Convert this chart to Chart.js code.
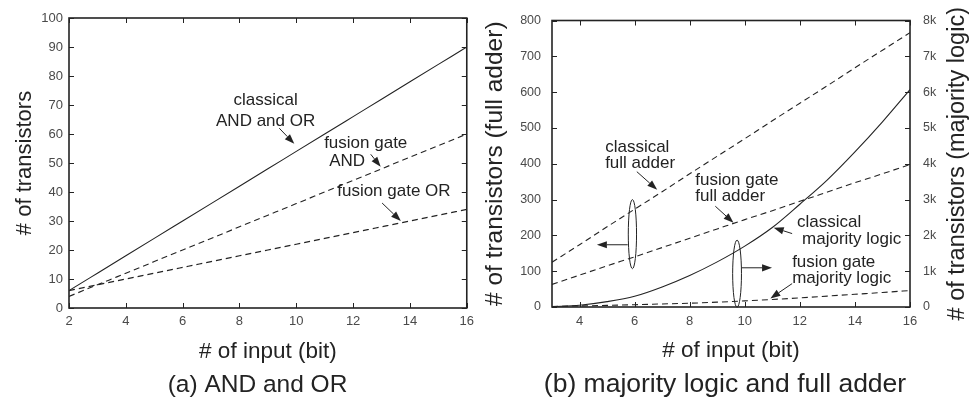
<!DOCTYPE html>
<html><head><meta charset="utf-8">
<script src="https://cdn.jsdelivr.net/npm/chart.js@4.4.1/dist/chart.umd.min.js"></script>
<style>
html,body{margin:0;padding:0;background:#fff;}
#wrap{position:relative;width:974px;height:401px;overflow:hidden;}
#a{position:absolute;left:0;top:0;width:480px;height:401px;}
#b{position:absolute;left:480px;top:0;width:494px;height:401px;}
</style></head><body>
<div id="wrap"><div id="a"><canvas id="ca"></canvas></div><div id="b"><canvas id="cb"></canvas></div></div>
<script>
// ---------- data (a) ----------
const inputsA = [2,3,4,5,6,7,8,9,10,11,12,13,14,15,16];
const classicalAndOr = [6,12,18,24,30,36,42,48,54,60,66,72,78,84,90];
const fusionAnd = [4,8,12,16,20,24,28,32,36,40,44,48,52,56,60];
const fusionOr = [6,8,10,12,14,16,18,20,22,24,26,28,30,32,34];
const xTicksA = [2,4,6,8,10,12,14,16];
const yTicksA = [0,10,20,30,40,50,60,70,80,90,100];

// ---------- data (b) ----------
const inputsB = [3,4,5,6,7,8,9,10,11,12,13,14,15,16];
const classicalFullAdder = [125,174,224,273,322,372,421,470,520,569,618,668,717,766];
const fusionFullAdder = [63,89,115,140,166,192,218,244,269,295,321,347,372,398];
const classicalMajority = [12,50,150,300,560,880,1260,1700,2220,2870,3550,4330,5170,6070];
const fusionMajority = [15,30,45,63,85,105,135,170,210,255,305,355,405,460];
const xTicksB = [4,6,8,10,12,14,16];
const yTicksBLeft = [0,100,200,300,400,500,600,700,800];
const yTicksBRight = [0,1000,2000,3000,4000,5000,6000,7000,8000];
const yTickLabelsBRight = ['0','1k','2k','3k','4k','5k','6k','7k','8k'];

// ---------- annotations (data coordinates) ----------
const notesA = [
  {text:'classical', x:8.92, y:71.7, align:'center'},
  {text:'AND and OR', x:8.92, y:64.5, align:'center'},
  {text:'fusion gate', x:10.98, y:56.8, align:'left'},
  {text:'AND', x:11.16, y:50.7, align:'left'},
  {text:'fusion gate OR', x:11.44, y:40.1, align:'left'}
];
const arrowsA = [
  {from:[9.40,62.0], to:[9.93,56.6]},
  {from:[12.62,53.0], to:[12.97,48.7]},
  {from:[13.02,36.2], to:[13.68,30.0]}
];
const notesB = [
  {text:'classical', x:4.93, y:446.9, align:'left'},
  {text:'full adder', x:4.93, y:400.8, align:'left'},
  {text:'fusion gate', x:8.2, y:355, align:'left'},
  {text:'full adder', x:8.2, y:309, align:'left'},
  {text:'classical', x:11.9, y:235.3, align:'left'},
  {text:'majority logic', x:12.08, y:189.5, align:'left'},
  {text:'fusion gate', x:11.72, y:125, align:'left'},
  {text:'majority logic', x:11.72, y:79.2, align:'left'}
];
const arrowsB = [
  {from:[6.08,377.9], to:[6.82,327.4]},
  {from:[8.93,281.4], to:[9.59,235.3]},
  {from:[11.72,205], to:[11.05,221.5]},
  {from:[11.72,65.4], to:[10.93,24]},
  {from:[5.75,173.8], to:[4.63,173.8]},
  {from:[9.87,109.5], to:[10.99,109.5]}
];
const ellipsesB = [
  {x:5.92, yTop:300, yBottom:107, rx:0.15},
  {x:9.72, yTop:186.8, yBottom:-0.8, rx:0.16}
];

const FONT = "'Liberation Sans', Arial, Helvetica, sans-serif";
Chart.defaults.font.family = FONT;
const INK = '#232323';
const TICKC = '#4a4a4a';

function pts(xs, ys){ return xs.map((x,i)=>({x:x, y:ys[i]})); }

function drawArrow(ctx, x1, y1, x2, y2){
  const ang = Math.atan2(y2-y1, x2-x1), hl = 10, hw = 3.6;
  const bx = x2 - hl*Math.cos(ang), by = y2 - hl*Math.sin(ang);
  ctx.beginPath(); ctx.moveTo(x1,y1); ctx.lineTo(bx,by); ctx.stroke();
  ctx.beginPath();
  ctx.moveTo(x2,y2);
  ctx.lineTo(bx + hw*Math.sin(ang), by - hw*Math.cos(ang));
  ctx.lineTo(bx - hw*Math.sin(ang), by + hw*Math.cos(ang));
  ctx.closePath(); ctx.fill();
}

const frameTicks = {
  id:'frameTicks',
  afterDatasetsDraw(chart){
    const ctx = chart.ctx, ca = chart.chartArea, L = 5;
    ctx.save();
    ctx.strokeStyle = INK; ctx.lineWidth = 1;
    ctx.beginPath();
    const xs = chart.scales.x;
    xs.ticks.forEach(t=>{
      const p = Math.round(xs.getPixelForValue(t.value))+0.5;
      ctx.moveTo(p, ca.bottom); ctx.lineTo(p, ca.bottom-L);
      ctx.moveTo(p, ca.top); ctx.lineTo(p, ca.top+L);
    });
    const ys = chart.scales.y;
    ys.ticks.forEach(t=>{
      const p = Math.round(ys.getPixelForValue(t.value))+0.5;
      ctx.moveTo(ca.left, p); ctx.lineTo(ca.left+L, p);
      ctx.moveTo(ca.right, p); ctx.lineTo(ca.right-L, p);
    });
    ctx.stroke();
    ctx.lineWidth = 1.6;
    ctx.strokeRect(ca.left, ca.top, ca.right-ca.left, ca.bottom-ca.top);
    ctx.restore();
  }
};

function notesPlugin(notes, arrows, ellipses, caption, rightTitle){
  return {
    id:'notes',
    afterDraw(chart){
      const ctx = chart.ctx, xs = chart.scales.x, ys = chart.scales.y, ca = chart.chartArea;
      ctx.save();
      ctx.fillStyle = INK; ctx.strokeStyle = INK; ctx.lineWidth = 1;
      ctx.font = '17px ' + FONT; ctx.textBaseline = 'middle';
      notes.forEach(n=>{
        ctx.textAlign = n.align;
        ctx.fillText(n.text, xs.getPixelForValue(n.x), ys.getPixelForValue(n.y));
      });
      arrows.forEach(a=>{
        drawArrow(ctx, xs.getPixelForValue(a.from[0]), ys.getPixelForValue(a.from[1]),
                       xs.getPixelForValue(a.to[0]), ys.getPixelForValue(a.to[1]));
      });
      ellipses.forEach(e=>{
        const cx = xs.getPixelForValue(e.x);
        const t = ys.getPixelForValue(e.yTop), b = ys.getPixelForValue(e.yBottom);
        const rx = Math.abs(xs.getPixelForValue(e.x+e.rx) - cx);
        ctx.beginPath(); ctx.ellipse(cx, (t+b)/2, rx, Math.abs(b-t)/2, 0, 0, Math.PI*2); ctx.stroke();
      });
      // caption
      ctx.textAlign = 'center';
      ctx.font = caption.size + 'px ' + FONT;
      ctx.fillText(caption.text, ca.left + caption.dx, caption.y);
      if (rightTitle){
        const y1 = chart.scales.y1;
        ctx.save();
        ctx.translate(y1.right - rightTitle.offset, (ca.top+ca.bottom)/2);
        ctx.rotate(-Math.PI/2);
        ctx.font = rightTitle.size + 'px ' + FONT;
        ctx.fillText(rightTitle.text, 0, 0);
        ctx.restore();
      }
      ctx.restore();
    }
  };
}

function lineDs(data, dashed, axis){
  const d = {data:data, borderColor:INK, borderWidth:1.1, pointRadius:0, fill:false,
    borderDash: dashed ? [6,4] : [], cubicInterpolationMode:'monotone'};
  if (axis) d.yAxisID = axis;
  return d;
}

// ---------- chart (a) ----------
new Chart(document.getElementById('ca'), {
  type:'line',
  data:{datasets:[
    lineDs(pts(inputsA, classicalAndOr), false),
    lineDs(pts(inputsA, fusionAnd), true),
    lineDs(pts(inputsA, fusionOr), true)
  ]},
  options:{
    responsive:true, maintainAspectRatio:false, animation:false, devicePixelRatio:1,
    layout:{padding:{top:18, right:12, left:0, bottom:0}},
    plugins:{legend:{display:false}, tooltip:{enabled:false}},
    scales:{
      x:{type:'linear', min:2, max:16,
        afterBuildTicks:s=>{ s.ticks = xTicksA.map(v=>({value:v})); },
        afterFit:s=>{ s.height = 93; },
        grid:{display:false, drawTicks:false}, border:{display:false},
        ticks:{font:{size:13}, color:TICKC, padding:6, maxRotation:0},
        title:{display:true, text:'# of input (bit)', color:INK, font:{size:22.5}, padding:{top:0,bottom:36}}
      },
      y:{type:'linear', min:0, max:100,
        afterBuildTicks:s=>{ s.ticks = yTicksA.map(v=>({value:v})); },
        afterFit:s=>{ s.width = 69; },
        grid:{display:false, drawTicks:false}, border:{display:false},
        ticks:{font:{size:13}, color:TICKC, padding:6},
        title:{display:true, text:'# of transistors', color:INK, font:{size:22}, padding:{top:12,bottom:0}}
      }
    }
  },
  plugins:[frameTicks, notesPlugin(notesA, arrowsA, [], {text:'(a) AND and OR', size:24.5, dx:188.5, y:385}, null)]
});

// ---------- chart (b) ----------
new Chart(document.getElementById('cb'), {
  type:'line',
  data:{datasets:[
    lineDs(pts(inputsB, classicalFullAdder), true, 'y'),
    lineDs(pts(inputsB, fusionFullAdder), true, 'y'),
    lineDs(pts(inputsB, classicalMajority), false, 'y1'),
    lineDs(pts(inputsB, fusionMajority), true, 'y1')
  ]},
  options:{
    responsive:true, maintainAspectRatio:false, animation:false, devicePixelRatio:1,
    layout:{padding:{top:17, right:0, left:0, bottom:0}},
    plugins:{legend:{display:false}, tooltip:{enabled:false}},
    scales:{
      x:{type:'linear', min:3, max:16,
        afterBuildTicks:s=>{ s.ticks = xTicksB.map(v=>({value:v})); },
        afterFit:s=>{ s.height = 94; },
        grid:{display:false, drawTicks:false}, border:{display:false},
        ticks:{font:{size:13}, color:TICKC, padding:7, maxRotation:0},
        title:{display:true, text:'# of input (bit)', color:INK, font:{size:22.5}, padding:{top:0,bottom:37}}
      },
      y:{type:'linear', position:'left', min:0, max:800,
        afterBuildTicks:s=>{ s.ticks = yTicksBLeft.map(v=>({value:v})); },
        afterFit:s=>{ s.width = 72; },
        grid:{display:false, drawTicks:false}, border:{display:false},
        ticks:{font:{size:12.5}, color:TICKC, padding:11},
        title:{display:true, text:'# of transistors (full adder)', color:INK, font:{size:24.5}, padding:{top:1,bottom:0}}
      },
      y1:{type:'linear', position:'right', min:0, max:8000,
        afterBuildTicks:s=>{ s.ticks = yTicksBRight.map(v=>({value:v})); },
        afterFit:s=>{ s.width = 64; },
        grid:{display:false, drawTicks:false}, border:{display:false},
        ticks:{font:{size:12.5}, color:TICKC, padding:13,
          callback:(v)=>{ const i = yTicksBRight.indexOf(v); return i>=0 ? yTickLabelsBRight[i] : ''; }},
        title:{display:false}
      }
    }
  },
  plugins:[frameTicks, notesPlugin(notesB, arrowsB, ellipsesB,
    {text:'(b) majority logic and full adder', size:26.5, dx:173, y:385},
    {text:'# of transistors (majority logic)', size:23.5, offset:16})]
});
</script>
</body></html>
